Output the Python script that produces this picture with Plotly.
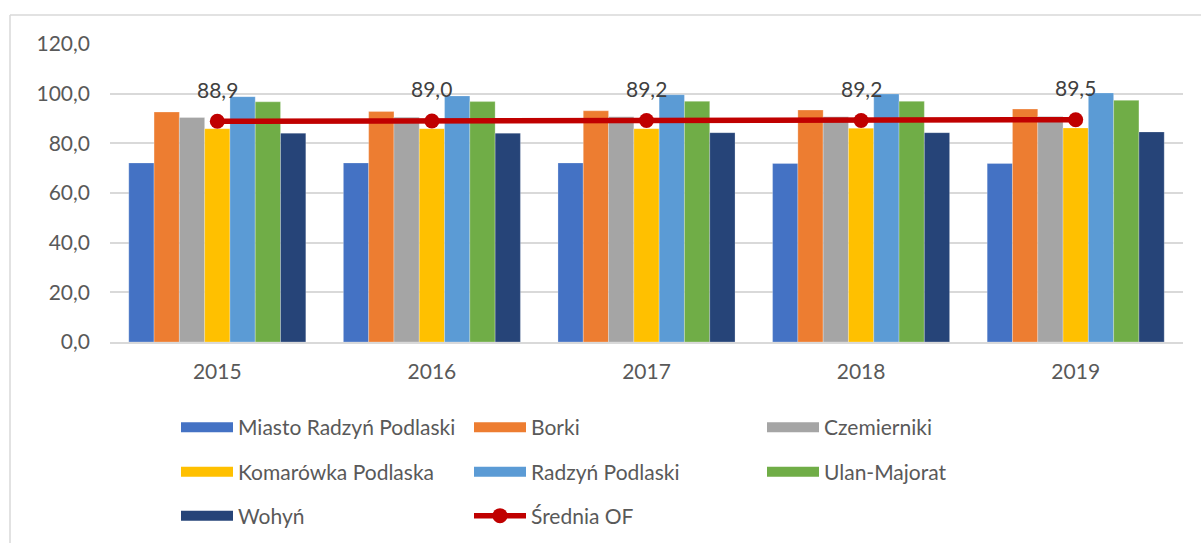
import plotly.graph_objects as go

years = ["2015", "2016", "2017", "2018", "2019"]

miasto_radzyn = [72.1, 72.1, 72.1, 71.9, 71.9]
borki = [92.6, 92.8, 93.1, 93.4, 93.8]
czemierniki = [90.4, 90.5, 90.7, 90.7, 90.8]
komarowka = [85.9, 85.9, 85.9, 86.1, 86.2]
radzyn_gmina = [98.8, 99.1, 99.6, 99.9, 100.3]
ulan_majorat = [96.7, 96.8, 96.9, 96.9, 97.3]
wohyn = [84.1, 84.1, 84.3, 84.3, 84.6]
srednia_of = [88.9, 89.0, 89.2, 89.2, 89.5]

y_ticks = [0, 20, 40, 60, 80, 100, 120]

W, H = 1201, 543
L, R, T, B = 110, 18, 44, 201
PW, PH = W - L - R, H - T - B

FONT = "Lato"
TXT = "#595959"

bar_series = [
    ("Miasto Radzyń Podlaski", miasto_radzyn, "#4472C4", "legend"),
    ("Borki", borki, "#ED7D31", "legend"),
    ("Czemierniki", czemierniki, "#A5A5A5", "legend"),
    ("Komarówka Podlaska", komarowka, "#FFC000", "legend2"),
    ("Radzyń Podlaski", radzyn_gmina, "#5B9BD5", "legend2"),
    ("Ulan-Majorat", ulan_majorat, "#70AD47", "legend2"),
    ("Wohyń", wohyn, "#264478", "legend3"),
]

fig = go.Figure()
for name, vals, color, lg in bar_series:
    fig.add_trace(go.Bar(
        x=years, y=vals, name=name, legendgroup=name, showlegend=False,
        marker=dict(color=color, line=dict(color="rgba(255,255,255,0.5)", width=0.5)),
    ))
    # wide flat swatch for the legend entry of each bar series
    fig.add_trace(go.Scatter(
        x=[None], y=[None], name=name, legend=lg, legendgroup=name,
        mode="lines", line=dict(color=color, width=12), hoverinfo="skip",
    ))

fig.add_trace(go.Scatter(
    x=years, y=srednia_of, name="Średnia OF", legend="legend3",
    mode="lines+markers",
    line=dict(color="#C00000", width=5.5),
    marker=dict(color="#C00000", size=15),
))

# value labels above the average line markers (x given as category index)
annotations = [
    dict(x=i, y=v, xref="x", yref="y", text=f"{v:.1f}".replace(".", ","),
         showarrow=False, yshift=32,
         font=dict(family=FONT, size=21, color="#404040"))
    for i, v in enumerate(srednia_of)
]


def px_x(px):
    return (px - L) / PW


def px_y(py):
    return (H - B - py) / PH


legend_common = dict(
    orientation="h", xanchor="left", yanchor="middle",
    entrywidth=226, entrywidthmode="pixels", itemwidth=52,
    font=dict(family=FONT, size=21, color=TXT),
    bgcolor="rgba(0,0,0,0)", tracegroupgap=0,
)

fig.update_layout(
    width=W, height=H,
    margin=dict(l=L, r=R, t=T, b=B, pad=0, autoexpand=False),
    paper_bgcolor="white", plot_bgcolor="white",
    separators=", ",
    barmode="group", bargap=0.175, bargroupgap=0,
    font=dict(family=FONT, size=21, color=TXT),
    xaxis=dict(
        type="category", categoryorder="array", categoryarray=years,
        range=[-0.5, len(years) - 0.5], autorange=False,
        showgrid=False, showline=True, linecolor="#d9d9d9", linewidth=1.5,
        ticks="", ticklabelstandoff=10,
        tickfont=dict(family=FONT, size=21, color=TXT),
    ),
    yaxis=dict(
        range=[0, 120], tickvals=y_ticks, tickformat=".1f",
        showgrid=True, gridcolor="#d9d9d9", gridwidth=1.5,
        zeroline=False, showline=False, ticks="",
        ticklabelstandoff=19,
        tickfont=dict(family=FONT, size=21, color=TXT),
    ),
    legend=dict(x=px_x(176), y=px_y(427.5), **legend_common),
    legend2=dict(x=px_x(176), y=px_y(472), **legend_common),
    legend3=dict(x=px_x(176), y=px_y(516), **legend_common),
    annotations=annotations,
    shapes=[
        dict(type="line", xref="paper", yref="paper",
             x0=px_x(10), x1=px_x(W + 5), y0=px_y(15), y1=px_y(15),
             line=dict(color="#d9d9d9", width=1.5)),
        dict(type="line", xref="paper", yref="paper",
             x0=px_x(10), x1=px_x(10), y0=px_y(15), y1=px_y(H + 5),
             line=dict(color="#d9d9d9", width=1.5)),
    ],
)

fig.write_html("out.html")
